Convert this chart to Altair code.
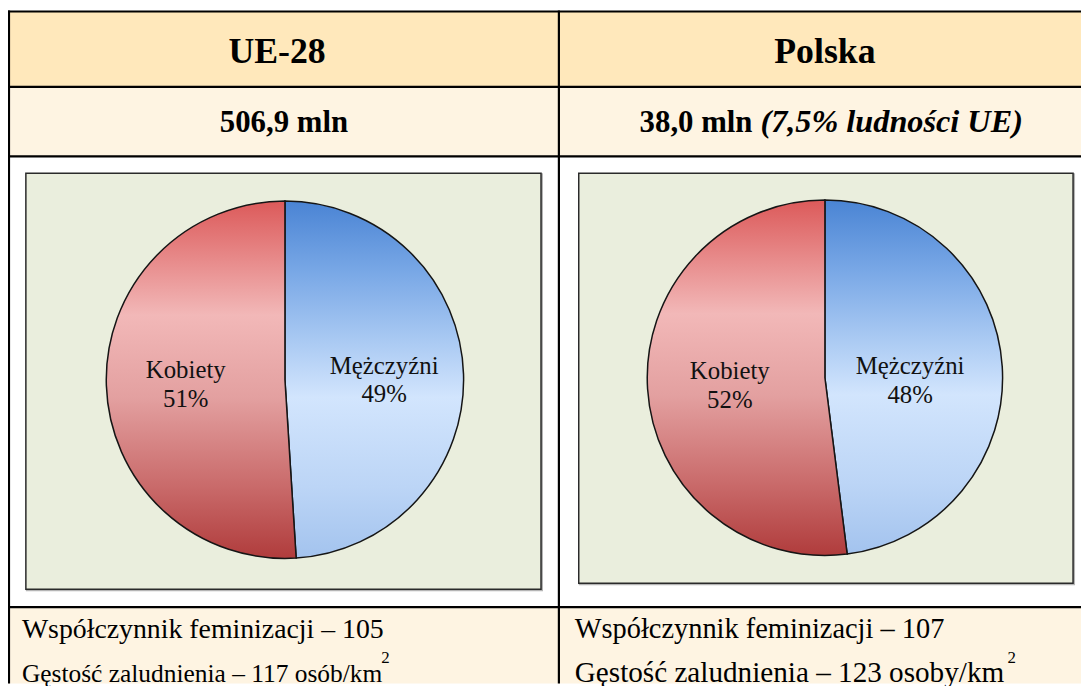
import altair as alt
import pandas as pd

# ---- data ----
regions = ["UE-28", "Polska"]
totals = ["506,9 mln", "38,0 mln"]
total_notes = ["", "(7,5% ludności UE)"]
sexes = ["Mężczyźni", "Kobiety"]
shares_ue = [49, 51]
shares_pl = [48, 52]
feminization = [105, 107]
density = [117, 123]
density_units = ["osób/km", "osoby/km"]

SERIF = "'Liberation Serif', 'Times New Roman', Times, 'DejaVu Serif', serif"
W, H = 1081, 678

BLUE = alt.LinearGradient(
    gradient="linear", x1=0, y1=0, x2=0, y2=1,
    stops=[
        alt.GradientStop(offset=0.0, color="#4a84d4"),
        alt.GradientStop(offset=0.2, color="#79a8e6"),
        alt.GradientStop(offset=0.55, color="#d2e5fd"),
        alt.GradientStop(offset=0.8, color="#bcd5f6"),
        alt.GradientStop(offset=1.0, color="#a3c3ee"),
    ],
)
RED = alt.LinearGradient(
    gradient="linear", x1=0, y1=0, x2=0, y2=1,
    stops=[
        alt.GradientStop(offset=0.0, color="#dc5a5a"),
        alt.GradientStop(offset=0.32, color="#f2b8b8"),
        alt.GradientStop(offset=0.55, color="#e3a0a0"),
        alt.GradientStop(offset=0.8, color="#c96a6a"),
        alt.GradientStop(offset=1.0, color="#b03c3c"),
    ],
)

DUMMY = pd.DataFrame({"d": [0]})


def rect(x, x2, y, y2, **style):
    return alt.Chart(DUMMY).mark_rect(**style).encode(
        x=alt.value(x), x2=alt.value(x2), y=alt.value(y), y2=alt.value(y2)
    )


def rule(x, x2, y, y2, **style):
    return alt.Chart(DUMMY).mark_rule(**style).encode(
        x=alt.value(x), x2=alt.value(x2), y=alt.value(y), y2=alt.value(y2)
    )


def text(t, x, y, **style):
    return alt.Chart(pd.DataFrame({"t": [t]})).mark_text(
        font=SERIF, color="#000", baseline="alphabetic", **style
    ).encode(x=alt.value(x), y=alt.value(y), text="t:N")


def pie(shares, cx, cy, r, label_r, label_dy):
    df = pd.DataFrame({"sex": sexes, "share": shares, "order": [0, 1]})
    base = alt.Chart(df).transform_window(
        end="sum(share)", sort=[alt.SortField("order")], frame=[None, 0]
    ).transform_calculate(
        start="datum.end - datum.share",
        mid="datum.end - datum.share / 2",
        lab="datum.sex + '|' + datum.share + '%'",
    )
    tscale = alt.Scale(domain=[0, 100])
    out = []
    for sex, grad in zip(sexes, [BLUE, RED]):
        out.append(
            base.transform_filter(alt.datum.sex == sex)
            .mark_arc(fill=grad, stroke="#151515", strokeWidth=1.5)
            .encode(
                theta=alt.Theta("start:Q", scale=tscale, stack=None),
                theta2="end:Q",
                x=alt.value(cx), y=alt.value(cy), radius=alt.value(r),
            )
        )
    for sex, lr, dy in zip(sexes, label_r, label_dy):
        out.append(
            base.transform_filter(alt.datum.sex == sex)
            .mark_text(font=SERIF, fontSize=25, lineBreak="|", lineHeight=29,
                       color="#111", baseline="alphabetic", align="center", dy=dy)
            .encode(
                theta=alt.Theta("mid:Q", scale=tscale, stack=None),
                radius=alt.value(lr),
                x=alt.value(cx), y=alt.value(cy),
                text="lab:N",
            )
        )
    return out


layers = []
# table row backgrounds
layers.append(rect(0, W, 1, 77, fill="#ffe8bb"))
layers.append(rect(0, W, 77, 147, fill="#fef4e2"))
layers.append(rect(0, W, 601, H, fill="#fef4e2"))

# chart panels (shadow + panel)
layers.append(rect(18, 539, 164, 585, fill="#b5b5b5"))
layers.append(rect(18, 537, 164, 583, fill="#eaeedd", stroke="#2a2a2a", strokeWidth=1.5))
layers.append(rect(575, 1075, 164, 579, fill="#b5b5b5"))
layers.append(rect(575, 1073, 164, 577, fill="#eaeedd", stroke="#2a2a2a", strokeWidth=1.5))

# table grid lines
for yy in [1, 77, 147, 601]:
    layers.append(rule(0, W, yy, yy, color="#000", strokeWidth=2.2))
for xx in [1, 555]:
    layers.append(rule(xx, xx, 0, H, color="#000", strokeWidth=2.2))

# header texts
layers.append(text(regions[0], 271, 53, fontSize=36, fontWeight="bold", align="center"))
layers.append(text(regions[1], 823, 53, fontSize=36, fontWeight="bold", align="center"))
layers.append(text(totals[0], 278, 122, fontSize=31, fontWeight="bold", align="center"))
layers.append(text(totals[1], 750, 122, fontSize=31, fontWeight="bold", align="right"))
layers.append(text(total_notes[1], 758, 122, fontSize=32.5, fontWeight="bold",
                   fontStyle="italic", align="left"))

# pies
layers += pie(shares_ue, 279, 372, 180, [100, 100], [-3, -5])
layers += pie(shares_pl, 823, 370, 179, [86, 96], [2, -5])

# bottom texts
layers.append(text(f"Współczynnik feminizacji – {feminization[0]}", 14, 632,
                   fontSize=28, align="left"))
layers.append(text(f"Gęstość zaludnienia – {density[0]} {density_units[0]}", 14, 677,
                   fontSize=25.6, align="left"))
layers.append(text(f"Współczynnik feminizacji – {feminization[1]}", 571, 632,
                   fontSize=28.6, align="left"))
layers.append(text(f"Gęstość zaludnienia – {density[1]} {density_units[1]}", 571, 677,
                   fontSize=29.4, align="left"))
layers.append(text("2", 376, 657, fontSize=17, align="left"))
layers.append(text("2", 1007, 657, fontSize=17, align="left"))

chart = alt.layer(*layers).properties(
    width=W, height=H,
    autosize=alt.AutoSizeParams(type="none"),
    padding=0,
).configure_view(stroke=None)

chart.save("out.html", embed_options={"renderer": "svg", "actions": False})
